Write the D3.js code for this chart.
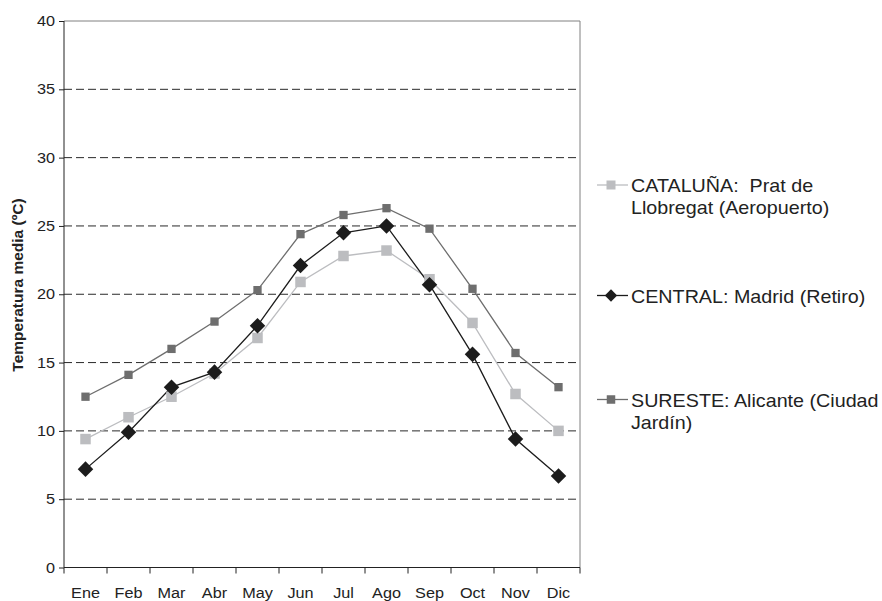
<!DOCTYPE html>
<html>
<head>
<meta charset="utf-8">
<script src="https://cdn.jsdelivr.net/npm/d3@7"></script>
<style>
  body { margin: 0; background: #fff; }
  svg { font-family: "Liberation Sans", Arial, sans-serif; }
</style>
</head>
<body>
<script>
const months = ["Ene", "Feb", "Mar", "Abr", "May", "Jun", "Jul", "Ago", "Sep", "Oct", "Nov", "Dic"];
const yTicks = [0, 5, 10, 15, 20, 25, 30, 35, 40];
const cataluna = [9.4, 11.0, 12.5, 14.2, 16.8, 20.9, 22.8, 23.2, 21.1, 17.9, 12.7, 10.0];
const central = [7.2, 9.9, 13.2, 14.3, 17.7, 22.1, 24.5, 25.0, 20.7, 15.6, 9.4, 6.7];
const sureste = [12.5, 14.1, 16.0, 18.0, 20.3, 24.4, 25.8, 26.3, 24.8, 20.4, 15.7, 13.2];
const seriesNames = [["CATALUÑA:\u00a0 Prat de", "Llobregat (Aeropuerto)"], ["CENTRAL: Madrid (Retiro)"], ["SURESTE: Alicante (Ciudad", "Jardín)"]];

const width = 882, height = 601;
const plotLeft = 64, plotRight = 580, plotTop = 21, plotBottom = 567.5;
const font = "Liberation Sans, Arial, sans-serif";

const svg = d3.select("body").append("svg")
    .attr("width", width)
    .attr("height", height);

const x = d3.scaleBand().domain(months).range([plotLeft, plotRight]);
const y = d3.scaleLinear().domain([0, 40]).range([plotBottom, plotTop]);

// grid lines (dashed), top one solid grey
svg.append("g")
    .selectAll("line")
    .data(yTicks.filter(t => t > 0))
    .enter()
    .append("line")
    .attr("x1", plotLeft).attr("x2", plotRight)
    .attr("y1", d => y(d)).attr("y2", d => y(d))
    .attr("stroke", d => d === 40 ? "#808080" : "#2a2a2a")
    .attr("stroke-width", 1)
    .attr("stroke-dasharray", d => d === 40 ? null : "8,4");

// right border
svg.append("line")
    .attr("x1", plotRight).attr("x2", plotRight)
    .attr("y1", plotTop).attr("y2", plotBottom)
    .attr("stroke", "#808080");

// AXES
const yAxis = d3.axisLeft(y).tickValues(yTicks).tickSize(5).tickPadding(3);
const gy = svg.append("g").attr("transform", `translate(${plotLeft},0)`).call(yAxis);
gy.selectAll("text").attr("font-size", 14.5).attr("fill", "#222").attr("font-family", font)
    .attr("transform", "scale(1.12,1)");
gy.selectAll("line").attr("stroke", "#222");
gy.select(".domain").attr("stroke", "#222").attr("d", `M0,${plotTop}V${plotBottom}`);

const xAxis = d3.axisBottom(x).tickSize(0).tickPadding(20);
const gx = svg.append("g").attr("transform", `translate(0,${plotBottom})`).call(xAxis);
gx.selectAll("text").attr("font-size", 14.5).attr("fill", "#222").attr("font-family", font)
    .attr("transform", "scale(1.12,1)");
gx.select(".domain").attr("stroke", "#222").attr("d", `M${plotLeft},0H${plotRight}`);
// ticks between categories
gx.append("g")
    .selectAll("line")
    .data(months.map((m, i) => i).concat([months.length]))
    .enter()
    .append("line")
    .attr("x1", i => plotLeft + i * x.bandwidth())
    .attr("x2", i => plotLeft + i * x.bandwidth())
    .attr("y1", 0).attr("y2", 6)
    .attr("stroke", "#222");

// axis title
svg.append("text")
    .attr("transform", `translate(23,285) rotate(-90)`)
    .attr("text-anchor", "middle")
    .attr("font-size", 15.5)
    .attr("font-weight", "bold")
    .attr("fill", "#222")
    .text("Temperatura media (ºC)");

const series = [
    { data: cataluna, color: "#bcbdc0", marker: "square", size: 10.5, legendSize: 9 },
    { data: central, color: "#1c1c1c", marker: "diamond", size: 11, legendSize: 8.7 },
    { data: sureste, color: "#6e6e6e", marker: "square", size: 8.3, legendSize: 8.5 }
];

const line = d3.line()
    .x((d, i) => x(months[i]) + x.bandwidth() / 2)
    .y(d => y(d));

function drawMarker(g, s, cx, cy, sz) {
    if (s.marker === "square") {
        g.append("rect")
            .attr("x", cx - sz / 2).attr("y", cy - sz / 2)
            .attr("width", sz).attr("height", sz)
            .attr("fill", s.color);
    } else {
        g.append("rect")
            .attr("x", -sz / 2).attr("y", -sz / 2)
            .attr("width", sz).attr("height", sz)
            .attr("transform", `translate(${cx},${cy}) rotate(45)`)
            .attr("fill", s.color);
    }
}

series.forEach(s => {
    svg.append("path")
        .datum(s.data)
        .attr("d", line)
        .attr("fill", "none")
        .attr("stroke", s.color)
        .attr("stroke-width", 1.3);
});
series.forEach(s => {
    const g = svg.append("g");
    s.data.forEach((v, i) => drawMarker(g, s, x(months[i]) + x.bandwidth() / 2, y(v), s.size));
});

// LEGEND
const legendY = [185, 295.5, 399.5];
series.forEach((s, k) => {
    const g = svg.append("g");
    g.append("line")
        .attr("x1", 597).attr("x2", 628)
        .attr("y1", legendY[k]).attr("y2", legendY[k])
        .attr("stroke", s.color).attr("stroke-width", 1.3);
    drawMarker(g, s, 611, legendY[k], s.legendSize);
    const t = g.append("text")
        .attr("transform", `translate(631,${legendY[k] + 7}) scale(1.06,1)`)
        .attr("font-size", 18.6)
        .attr("fill", "#222");
    seriesNames[k].forEach((str, j) => {
        t.append("tspan").attr("x", 0).attr("dy", j === 0 ? 0 : 22.5).text(str);
    });
});
</script>
</body>
</html>
